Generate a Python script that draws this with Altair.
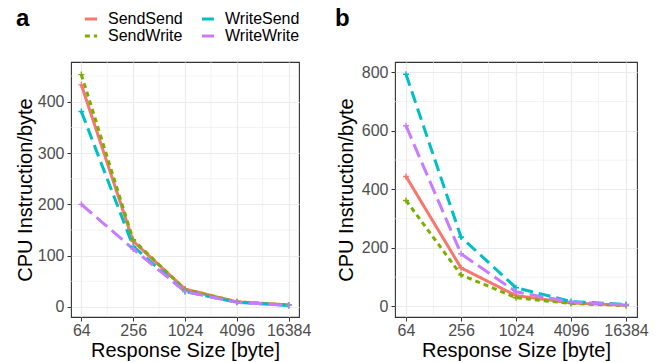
import altair as alt
import pandas as pd

sizes = [64, 256, 1024, 4096, 16384]
series_order = ["SendSend", "SendWrite", "WriteSend", "WriteWrite"]
series_colors = ["#F8766D", "#7CAE00", "#00BFC4", "#C77CFF"]
series_dashes = [[1, 0], [5, 4], [12, 6], [14, 6]]

a_sendsend = [433, 128, 35, 10, 4]
a_sendwrite = [453, 131, 34, 10, 4]
a_writesend = [381, 118, 30, 9, 3]
a_writewrite = [200, 113, 30, 9, 3]

b_sendsend = [444, 132, 37, 12, 4]
b_sendwrite = [362, 108, 30, 10, 3]
b_writesend = [793, 237, 64, 17, 7]
b_writewrite = [617, 180, 50, 15, 5]

x_ticks = [64, 256, 1024, 4096, 16384]
x_minor = [128, 512, 2048, 8192]
a_y_ticks = [0, 100, 200, 300, 400]
a_y_minor = [50, 150, 250, 350, 450]
b_y_ticks = [0, 200, 400, 600, 800]
b_y_minor = [100, 300, 500, 700]

FONT = "Liberation Sans"


def long_df(ss, sw, ws, ww):
    rows = []
    for name, vals in [("SendSend", ss), ("SendWrite", sw), ("WriteSend", ws), ("WriteWrite", ww)]:
        for s, v in zip(sizes, vals):
            rows.append({"size": s, "value": v, "series": name})
    return pd.DataFrame(rows)


def panel(df, yticks, yminor, ydomain, width, height, tag, tag_x, ytitle_x, show_legend):
    xscale = alt.Scale(type="log", base=2, domain=[48.5, 21619], nice=False)
    yscale = alt.Scale(domain=ydomain, nice=False, zero=False)
    xaxis = alt.Axis(values=x_ticks, format="d", title="Response Size [byte]",
                     titleY=33, titleBaseline="middle", labelPadding=1)
    yaxis = alt.Axis(values=yticks, format="d", title="CPU Instruction/byte",
                     titleX=ytitle_x, titleBaseline="middle", labelPadding=3)

    def X():
        return alt.X("size:Q", scale=xscale, axis=xaxis)

    def Y():
        return alt.Y("value:Q", scale=yscale, axis=yaxis)

    xm = alt.Chart(pd.DataFrame({"size": x_minor})).mark_rule(
        color="#EBEBEB", strokeWidth=0.6).encode(x=X())
    ym = alt.Chart(pd.DataFrame({"value": yminor})).mark_rule(
        color="#EBEBEB", strokeWidth=0.6).encode(y=Y())

    if show_legend:
        leg = alt.Legend(title=None, orient="none", legendX=12, legendY=-51,
                         columns=2, symbolType="stroke", symbolSize=150,
                         symbolStrokeWidth=3, labelFontSize=16, labelFont=FONT,
                         labelColor="black", labelOffset=9, columnPadding=12,
                         rowPadding=1, padding=0)
    else:
        leg = None

    color = alt.Color("series:N", scale=alt.Scale(domain=series_order, range=series_colors), legend=leg)
    dash = alt.StrokeDash("series:N", scale=alt.Scale(domain=series_order, range=series_dashes), legend=leg)

    lines = alt.Chart(df).mark_line(strokeWidth=3, strokeCap="butt").encode(
        x=X(), y=Y(), color=color, strokeDash=dash,
        order=alt.Order("size:Q"))

    pts = alt.Chart(df).mark_point(shape="M-1,0H1M0,-1V1", size=36, filled=False,
                                   strokeWidth=1.4, opacity=1).encode(
        x=X(), y=Y(),
        color=alt.Color("series:N", scale=alt.Scale(domain=series_order, range=series_colors), legend=None))

    tag_layer = alt.Chart(pd.DataFrame({"tag": [tag]})).mark_text(
        font=FONT, fontSize=24, fontWeight="bold", color="black",
        align="left", baseline="alphabetic").encode(
        x=alt.value(tag_x), y=alt.value(-36), text="tag:N")

    return alt.layer(xm, ym, lines, pts, tag_layer).properties(width=width, height=height)


df_a = long_df(a_sendsend, a_sendwrite, a_writesend, a_writewrite)
df_b = long_df(b_sendsend, b_sendwrite, b_writesend, b_writewrite)

pa = panel(df_a, a_y_ticks, a_y_minor, [-19.6, 477.6], 228, 255, "a", -55, -46, True)
pb = panel(df_b, b_y_ticks, b_y_minor, [-36, 835], 242, 255, "b", -60, -49, False)

chart = alt.hconcat(pa, pb, spacing=96, bounds="flush").resolve_scale(
    color="independent", strokeDash="independent"
).configure(
    font=FONT, padding={"left": 14, "top": 6, "right": 0, "bottom": 0}
).configure_view(
    stroke="#333333", strokeWidth=1.1
).configure_axis(
    labelFont=FONT, labelFontSize=16, labelColor="#4D4D4D",
    titleFont=FONT, titleFontSize=20, titleColor="black", titleFontWeight="normal",
    tickColor="#333333", tickSize=4, tickWidth=1, domain=False,
    grid=True, gridColor="#EBEBEB", gridWidth=1.2
)

chart.save("out.html", embed_options={"renderer": "svg", "actions": False})
